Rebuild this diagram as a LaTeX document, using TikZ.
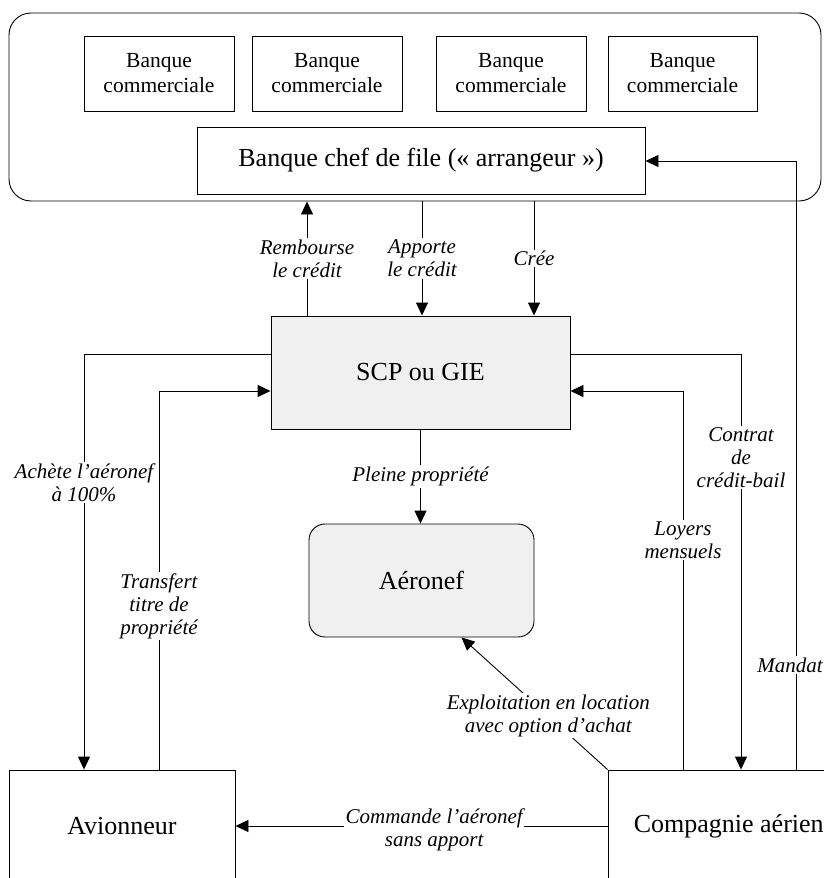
\documentclass[tikz,border=0pt]{standalone}
\usepackage{fontspec}
\setmainfont{Liberation Serif}
\usetikzlibrary{arrows.meta}
\definecolor{boxgray}{HTML}{F0F0F0}
\begin{document}
\begin{tikzpicture}[x=1pt,y=-1pt,
  box/.style={draw, line width=0.9pt, inner sep=0pt, align=center,
    font=\fontsize{26}{30}\selectfont},
  bank/.style={box, font=\fontsize{21.5}{25}\selectfont,
    minimum width=150pt, minimum height=75pt},
  lbl/.style={fill=white, inner sep=1.5pt, align=center,
    font=\fontsize{21}{23}\selectfont\itshape},
  arr/.style={-{Triangle[length=13pt,width=12pt]}, line width=0.9pt}]
\useasboundingbox (0,0) rectangle (824,878);
\clip (0,0) rectangle (824,878);

% banking pool
\node[box, rounded corners=22pt, minimum width=812pt, minimum height=188pt] (pool) at (415,107) {};
\node[bank] (b1) at (159,73.5) {Banque\\commerciale};
\node[bank] (b2) at (327,73.5) {Banque\\commerciale};
\node[bank] (b3) at (511,73.5) {Banque\\commerciale};
\node[bank, minimum width=149pt] (b4) at (682.5,73.5) {Banque\\commerciale};
\node[box, minimum width=448pt, minimum height=67pt] (chef) at (421,160.5) {Banque chef de file («~arrangeur~»)};

% main actors
\node[box, fill=boxgray, minimum width=299pt, minimum height=113pt] (scp) at (420.5,372.5) {SCP ou GIE};
\node[box, fill=boxgray, rounded corners=16pt, minimum width=225pt, minimum height=113pt] (aero) at (421.5,580.5) {Aéronef};
\node[box, minimum width=226pt, minimum height=112pt] (avion) at (122,826) {Avionneur};
\node[box, minimum width=266pt, minimum height=112pt] (comp) at (741,826) {Compagnie aérienne};

% connector tracks
\coordinate (xRemb) at (307,0);
\coordinate (xAppo) at (422,0);
\coordinate (xCree) at (534,0);
\coordinate (xAch) at (84,0);
\coordinate (xTrans) at (159,0);
\coordinate (xCont) at (741,0);
\coordinate (xLoy) at (683,0);
\coordinate (xMand) at (796,0);
\coordinate (yHi) at (0,354);
\coordinate (yLo) at (0,391);
\coordinate (yMand) at (0,161);

\draw[arr] (scp.north -| xRemb) -- node[lbl]{Rembourse\\le crédit} (pool.south -| xRemb);
\draw[arr] (pool.south -| xAppo) -- node[lbl]{Apporte\\le crédit} (scp.north -| xAppo);
\draw[arr] (pool.south -| xCree) -- node[lbl]{Crée} (scp.north -| xCree);
\draw[arr] (scp.west |- yHi) -| node[lbl, pos=0.655]{Achète l’aéronef\\à 100\%} (avion.north -| xAch);
\draw[arr] (avion.north -| xTrans) |- node[lbl, pos=0.216]{Transfert\\titre de\\propriété} (scp.west |- yLo);
\draw[arr] (scp.east |- yHi) -| node[lbl, pos=0.625]{Contrat\\de\\crédit-bail} (comp.north -| xCont);
\draw[arr] (comp.north -| xLoy) |- node[lbl, pos=0.303]{Loyers\\mensuels} (scp.east |- yLo);
\draw[arr] (comp.north -| xMand) |- node[lbl, pos=0.086, xshift=-6pt]{Mandat} (chef.east |- yMand);
\draw[arr] (scp.south) -- node[lbl]{Pleine propriété} (scp.south |- aero.north);
\draw[arr] (comp.north west) -- node[lbl, pos=0.406]{Exploitation en location\\avec option d’achat} ([xshift=40pt]aero.south);
\draw[arr] (comp.west) -- node[lbl, pos=0.466, yshift=-4pt]{Commande l’aéronef\\sans apport} (avion.east);
\end{tikzpicture}
\end{document}
